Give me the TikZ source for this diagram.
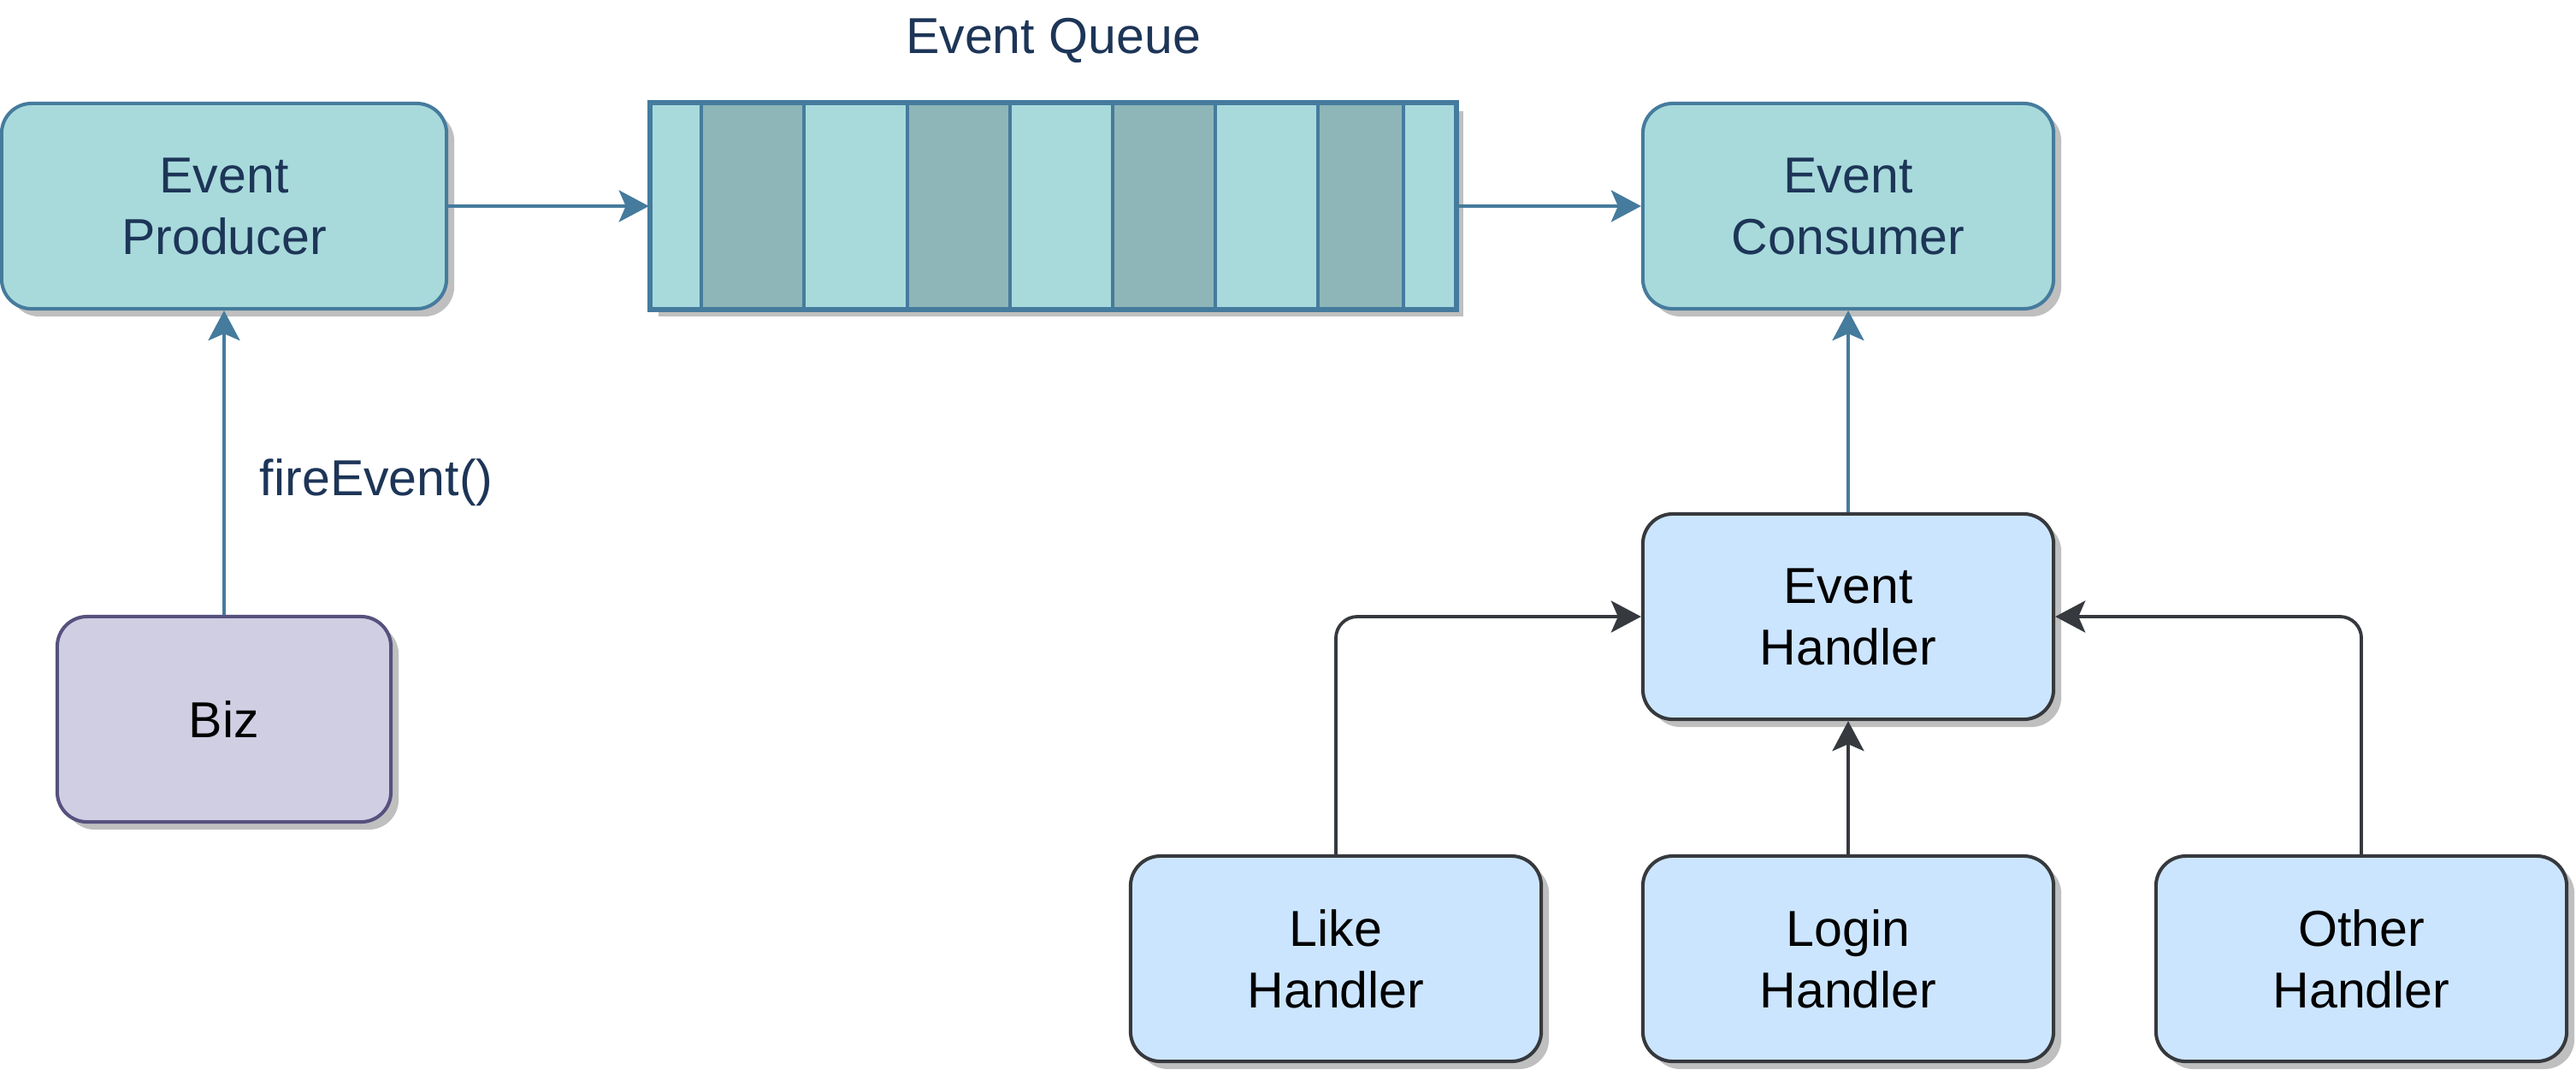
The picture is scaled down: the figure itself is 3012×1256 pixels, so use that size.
\documentclass[tikz,border=0pt]{standalone}
\usepackage{fontspec}
\setmainfont{Liberation Sans}
\usetikzlibrary{positioning,shadows,arrows.meta}
\definecolor{qlight}{HTML}{A8DADC}
\definecolor{qdark}{HTML}{8EB5B7}
\definecolor{qline}{HTML}{457B9D}
\definecolor{qtext}{HTML}{1D3557}
\definecolor{bizfill}{HTML}{D0CEE2}
\definecolor{bizline}{HTML}{56517E}
\definecolor{hfill}{HTML}{CCE5FF}
\definecolor{hline}{HTML}{36393D}
\begin{document}
\begin{tikzpicture}[x=0.01cm,y=-0.01cm]
\tikzstyle{every node}+=[inner sep=0pt, align=center, font=\fontsize{16.8}{20.5}\selectfont]
\tikzstyle{shade}=[drop shadow={shadow xshift=0.09cm, shadow yshift=-0.09cm, fill=black!25, opacity=1}]
\tikzstyle{tealbox}=[draw=qline, fill=qlight, line width=1.15pt, rounded corners=0.35cm, text=qtext, shade, minimum height=2.4cm]
\tikzstyle{bizbox}=[draw=bizline, fill=bizfill, line width=1.15pt, rounded corners=0.35cm, shade, minimum width=3.9cm, minimum height=2.4cm]
\tikzstyle{hbox}=[draw=hline, fill=hfill, line width=1.15pt, rounded corners=0.35cm, shade, minimum width=4.8cm, minimum height=2.4cm]
\tikzstyle{cell}=[draw=qline, fill=qdark, line width=1pt]
\tikzstyle{bluearrow}=[draw=qline, line width=1.1pt, -{Stealth[length=0.35cm, width=0.37cm, inset=0.08cm]}]
\tikzstyle{darkarrow}=[draw=hline, line width=1.1pt, rounded corners=0.25cm, -{Stealth[length=0.35cm, width=0.37cm, inset=0.08cm]}]
\useasboundingbox (0,0) rectangle (3012,1256);
% top row
\node (prod) at (262,241) [tealbox, minimum width=5.2cm] {Event\\Producer};
\node (queue) at (1231.5,241) [draw=qline, fill=qlight, line width=1.15pt, shade, minimum width=9.41cm, minimum height=2.4cm] {};
\draw [cell] (820,121) rectangle (940,361);
\draw [cell] (1061,121) rectangle (1181,361);
\draw [cell] (1301,121) rectangle (1421,361);
\draw [cell] (1541,121) rectangle (1641,361);
\draw [draw=qline, line width=1.15pt] (queue.north west) rectangle (queue.south east);
\node (qlabel) at (1231.5,47) [text=qtext] {Event Queue};
\node (cons) at (2161,241) [tealbox, minimum width=4.8cm] {Event\\Consumer};
% producer side
\node (biz) at (262,841) [bizbox] {Biz};
% handlers
\node (evh) at (2161,721) [hbox] {Event\\Handler};
\node (like) at (1562,1121) [hbox] {Like\\Handler};
\node (login) at (2161,1121) [hbox] {Login\\Handler};
\node (other) at (2761,1121) [hbox] {Other\\Handler};
% connectors
\draw [bluearrow] (prod.east) -- (queue.west);
\draw [bluearrow] (queue.east) -- (cons.west);
\draw [bluearrow] (biz) -- node [pos=0.435, right=0.4cm, text=qtext] {fireEvent()} (prod);
\draw [bluearrow] (evh) -- (cons);
\draw [darkarrow] (like.north) |- (evh.west);
\draw [darkarrow] (login) -- (evh);
\draw [darkarrow] (other.north) |- (evh.east);
\end{tikzpicture}
\end{document}
